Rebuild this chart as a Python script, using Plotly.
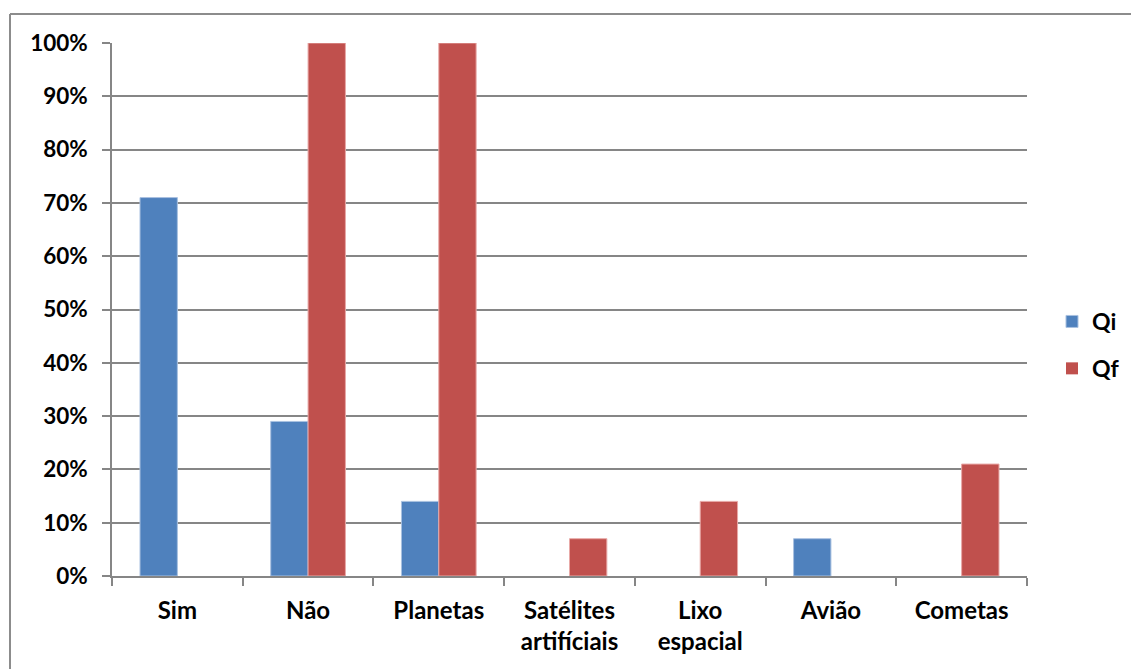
import plotly.graph_objects as go

categories = ["Sim", "Não", "Planetas", "Satélites<br>artifíciais", "Lixo<br>espacial", "Avião", "Cometas"]
qi_values = [0.71, 0.29, 0.14, 0, 0, 0.07, 0]
qf_values = [0, 1.00, 1.00, 0.07, 0.14, 0, 0.21]
y_ticks = [0, 0.1, 0.2, 0.3, 0.4, 0.5, 0.6, 0.7, 0.8, 0.9, 1.0]
y_tick_labels = ["0%", "10%", "20%", "30%", "40%", "50%", "60%", "70%", "80%", "90%", "100%"]

FONT = "Lato"
W, H = 1131, 669
L, R, T, B = 112, 104, 43, 93
PW, PH = W - L - R, H - T - B


def px_x(p):
    return (p - L) / PW


def px_y(p):
    return (H - B - p) / PH


fig = go.Figure()
fig.add_trace(go.Bar(
    x=categories, y=qi_values, name="Qi", legendgroup="qi",
    marker=dict(color="#4F81BD",
                line=dict(color="#A9C1E0", width=[1 if v > 0 else 0 for v in qi_values])),
))
fig.add_trace(go.Bar(
    x=categories, y=qf_values, name="Qf", legendgroup="qf",
    marker=dict(color="#C0504D",
                line=dict(color="#E8A9A7", width=[1 if v > 0 else 0 for v in qf_values])),
))

fig.update_layout(
    width=W, height=H,
    margin=dict(l=L, r=R, t=T, b=B, autoexpand=False),
    paper_bgcolor="white", plot_bgcolor="white",
    barmode="group", bargap=0.4286, bargroupgap=0,
    font=dict(family=FONT, size=22, color="black"),
    showlegend=True,
    legend=dict(
        x=px_x(1052), y=px_y(345), xanchor="left", yanchor="middle",
        font=dict(family=FONT, size=23, color="black", weight="bold"),
        tracegroupgap=14, traceorder="grouped",
        bgcolor="rgba(0,0,0,0)",
    ),
    xaxis=dict(
        showline=True, linecolor="#868686", linewidth=1.5,
        ticks="outside", ticklen=8, tickcolor="#868686", tickwidth=1.5,
        tickson="boundaries", ticklabelstandoff=12,
        tickfont=dict(family=FONT, size=24, color="black", weight="bold"),
        showgrid=False,
    ),
    yaxis=dict(
        range=[0, 1.0], tickvals=y_ticks, ticktext=y_tick_labels,
        showline=True, linecolor="#868686", linewidth=1.5,
        ticks="outside", ticklen=8, tickcolor="#868686", tickwidth=1.5,
        ticklabelstandoff=10,
        showgrid=True, gridcolor="#868686", gridwidth=1.5,
        zeroline=False,
        tickfont=dict(family=FONT, size=22.5, color="black", weight="bold"),
    ),
    shapes=[
        dict(type="line", xref="paper", yref="paper",
             x0=px_x(10), x1=px_x(W + 5), y0=px_y(14), y1=px_y(14),
             line=dict(color="#8C8C8C", width=2)),
        dict(type="line", xref="paper", yref="paper",
             x0=px_x(10), x1=px_x(10), y0=px_y(14), y1=px_y(H + 5),
             line=dict(color="#8C8C8C", width=2)),
    ],
)

fig.write_html("out.html")
